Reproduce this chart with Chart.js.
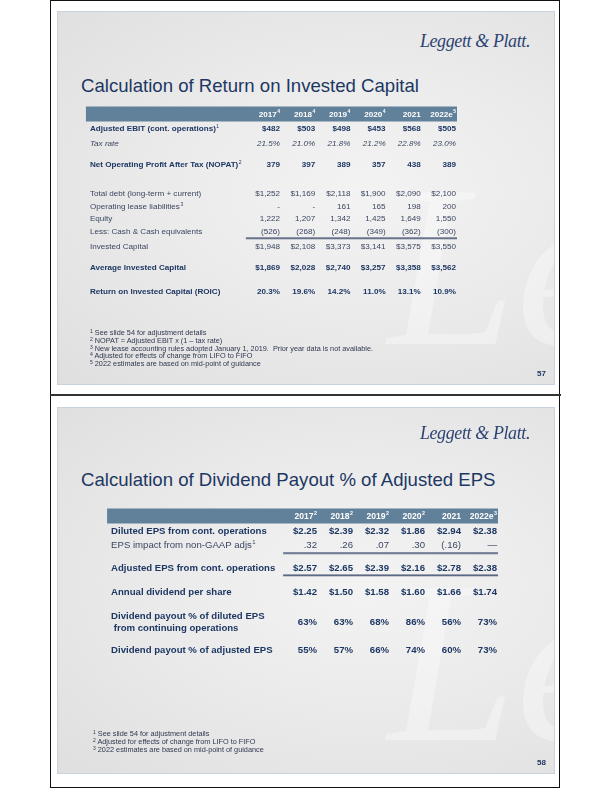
<!DOCTYPE html>
<html>
<head>
<meta charset="utf-8">
<script src="https://cdn.jsdelivr.net/npm/chart.js@4.4.1/dist/chart.umd.min.js"></script>
<style>
body { margin: 0; width: 612px; height: 792px; background: #fff; position: relative; overflow: hidden; font-family: "Liberation Sans", Arial, sans-serif; }
.frame { position: absolute; left: 50px; top: 0; width: 508px; height: 786px; border: 1.5px solid #111; }
.divider { position: absolute; left: 50px; top: 394px; width: 511px; height: 2px; background: #333; }
.slide { position: absolute; left: 57px; width: 498px; overflow: hidden; box-sizing: border-box; border: 1px solid #c9d3de;
  background: radial-gradient(ellipse at 62% 48%, #f3f3f3 0%, #ebebeb 45%, #dfdfdf 100%); }
.slide canvas { position: absolute; left: 0; top: 0; }
.logo { position: absolute; right: 24px; font-family: "Liberation Serif", serif; font-style: italic; font-size: 18px; color: #2c4373; letter-spacing: -0.4px; }
.title { position: absolute; left: 23px; font-size: 18.6px; line-height: 1; color: #1d3763; white-space: nowrap; }
.notes { position: absolute; font-size: 7.3px; line-height: 7.8px; color: #2f3850; white-space: nowrap; }
.notes sup { font-size: 5px; vertical-align: 2px; line-height: 0; }
.page { position: absolute; right: 8px; font-size: 8px; font-weight: bold; color: #1d3763; }
.mark { position: absolute; font-family: "Liberation Serif", serif; font-style: italic; color: rgba(255,255,255,0.35); font-size: 230px; line-height: 1; white-space: nowrap; }
</style>
</head>
<body>
<div class="frame"></div>
<div class="divider"></div>

<div class="slide" style="top:11px;height:374px">
  <div class="mark" style="left:330px;top:140px">Le</div>
  <div class="logo" style="top:19px">Leggett &amp; Platt.</div>
  <div class="title" style="top:65px">Calculation of Return on Invested Capital</div>
  <canvas id="roicChart" width="498" height="374"></canvas>
  <div class="notes" style="left:32px;top:317px">
    <sup>1</sup> See slide 54 for adjustment details<br>
    <sup>2</sup> NOPAT = Adjusted EBIT x (1 – tax rate)<br>
    <sup>3</sup> New lease accounting rules adopted January 1, 2019.&nbsp; Prior year data is not available.<br>
    <sup>4</sup> Adjusted for effects of change from LIFO to FIFO<br>
    <sup>5</sup> 2022 estimates are based on mid-point of guidance
  </div>
  <div class="page" style="top:357px">57</div>
</div>

<div class="slide" style="top:407px;height:367px">
  <div class="mark" style="left:330px;top:140px">Le</div>
  <div class="logo" style="top:15px">Leggett &amp; Platt.</div>
  <div class="title" style="top:63px">Calculation of Dividend Payout % of Adjusted EPS</div>
  <canvas id="payoutChart" width="498" height="367"></canvas>
  <div class="notes" style="left:35px;top:322px">
    <sup>1</sup> See slide 54 for adjustment details<br>
    <sup>2</sup> Adjusted for effects of change from LIFO to FIFO<br>
    <sup>3</sup> 2022 estimates are based on mid-point of guidance
  </div>
  <div class="page" style="top:350px">58</div>
</div>

<script>
// ---- ROIC table data ----
const roicYears = ['2017', '2018', '2019', '2020', '2021', '2022e'];
const roicYearNotes = ['4', '4', '4', '4', '', '5'];
const roicLabels = ['Adjusted EBIT (cont. operations)', 'Tax rate', 'Net Operating Profit After Tax (NOPAT)',
  'Total debt (long-term + current)', 'Operating lease liabilities', 'Equity', 'Less: Cash & Cash equivalents',
  'Invested Capital', 'Average Invested Capital', 'Return on Invested Capital (ROIC)'];
const roicLabelNotes = ['1', '', '2', '', '3', '', '', '', '', ''];
const adjustedEbit = [482, 503, 498, 453, 568, 505];
const taxRate = [21.5, 21.0, 21.8, 21.2, 22.8, 23.0];
const nopat = [379, 397, 389, 357, 438, 389];
const totalDebt = [1252, 1169, 2118, 1900, 2090, 2100];
const leaseLiabilities = [null, null, 161, 165, 198, 200];
const equity = [1222, 1207, 1342, 1425, 1649, 1550];
const cashEquivalents = [-526, -268, -248, -349, -362, -300];
const investedCapital = [1948, 2108, 3373, 3141, 3575, 3550];
const avgInvestedCapital = [1869, 2028, 2740, 3257, 3358, 3562];
const roic = [20.3, 19.6, 14.2, 11.0, 13.1, 10.9];

// ---- Dividend payout table data ----
const payoutYears = ['2017', '2018', '2019', '2020', '2021', '2022e'];
const payoutYearNotes = ['2', '2', '2', '2', '', '3'];
const payoutLabels = ['Diluted EPS from cont. operations', 'EPS impact from non-GAAP adjs',
  'Adjusted EPS from cont. operations', 'Annual dividend per share',
  'Dividend payout % of diluted EPS\n from continuing operations', 'Dividend payout % of adjusted EPS'];
const payoutLabelNotes = ['', '1', '', '', '', ''];
const dilutedEps = [2.25, 2.39, 2.32, 1.86, 2.94, 2.38];
const nonGaapAdj = [0.32, 0.26, 0.07, 0.30, -0.16, 0];
const adjustedEps = [2.57, 2.65, 2.39, 2.16, 2.78, 2.38];
const annualDividend = [1.42, 1.50, 1.58, 1.60, 1.66, 1.74];
const payoutDiluted = [63, 63, 68, 86, 56, 73];
const payoutAdjusted = [55, 57, 66, 74, 60, 73];

// formatters
const comma = v => Math.abs(v).toLocaleString('en-US');
const money = v => v == null ? '-' : (v < 0 ? '(' + comma(v) + ')' : '$' + comma(v));
const plain = v => v == null ? '-' : (v < 0 ? '(' + comma(v) + ')' : comma(v));
const pct1 = v => v.toFixed(1) + '%';
const pct0 = v => v + '%';
const eps = v => '$' + v.toFixed(2);
const adj = v => v === 0 ? '—' : (v < 0 ? '(' + v.toFixed(2).replace('-0', '') + ')' : v.toFixed(2).replace(/^0/, ''));

const NAVY = '#1d3763';
const GREY = '#3b4660';

const tablePlugin = {
  id: 'table',
  afterDraw(chart, args, o) {
    const ctx = chart.ctx;
    const xs = chart.scales.x, ys = chart.scales.y;
    const font = (w, s, st) => (st || '') + ' ' + w + ' ' + s + 'px "Liberation Sans", Arial, sans-serif';
    ctx.save();
    // header bar
    const hy = ys.getPixelForValue(0);
    const barL = xs.getPixelForValue(o.labelCol) - 4;
    const barR = xs.getPixelForValue(xs.max) + 1;
    ctx.fillStyle = '#61809a';
    ctx.fillRect(barL, hy - o.barH / 2, barR - barL, o.barH);
    ctx.textBaseline = 'middle';
    o.years.forEach((yr, i) => {
      const x = xs.getPixelForValue(i);
      ctx.font = font('bold', o.headSize * 0.62);
      const nw = o.yearNotes[i] ? ctx.measureText(o.yearNotes[i]).width + 0.5 : 0;
      ctx.fillStyle = '#fff';
      ctx.textAlign = 'left';
      ctx.fillText(o.yearNotes[i], x - nw + 0.5, hy - o.headSize * 0.3);
      ctx.textAlign = 'right';
      ctx.font = font('bold', o.headSize);
      ctx.fillText(yr, x - nw, hy + 0.5);
    });
    // rule lines
    o.rules.forEach(r => {
      const y = ys.getPixelForValue(o.rowPos[r.row]) + r.gap;
      const l = xs.getPixelForValue(r.from);
      ctx.fillStyle = '#24375c';
      ctx.fillRect(l, y, barR - l, 1.2);
      ctx.fillStyle = 'rgba(150,160,175,0.6)';
      ctx.fillRect(l, y + 1.2, barR - l, 1);
    });
    // rows
    chart.data.datasets.forEach((ds, r) => {
      const meta = chart.getDatasetMeta(r);
      const st = o.styles[r];
      ctx.fillStyle = st.color;
      const w = st.bold ? 'bold' : 'normal';
      const it = st.italic ? 'italic' : '';
      // label
      const lx = xs.getPixelForValue(o.labelCol);
      const ly = ys.getPixelForValue(o.rowPos[r]);
      const lines = ds.label.split('\n');
      lines.forEach((line, k) => {
        const yy = ly + (k - (lines.length - 1) / 2) * o.size * 1.25;
        ctx.textAlign = 'left';
        ctx.font = font(w, o.size, it);
        ctx.fillText(line, lx, yy);
        if (k === lines.length - 1 && o.labelNotes[r]) {
          const tw = ctx.measureText(line).width;
          ctx.font = font('normal', o.size * 0.62);
          ctx.fillText(o.labelNotes[r], lx + tw + 0.5, yy - o.size * 0.3);
        }
      });
      ctx.font = font(w, o.size, it);
      ctx.textAlign = 'right';
      meta.data.forEach((pt, i) => {
        ctx.fillText(ds.cells[i], pt.x, pt.y);
      });
    });
    ctx.restore();
  }
};

function makeTable(id, labels, rows, fmts, styles, opts) {
  const datasets = rows.map((vals, r) => ({
    label: labels[r],
    cells: vals.map(fmts[r]),
    data: vals.map((v, i) => ({ x: i, y: opts.rowPos[r] })),
    pointRadius: 0
  }));
  new Chart(document.getElementById(id), {
    type: 'scatter',
    data: { datasets: datasets },
    options: {
      responsive: false,
      animation: false,
      layout: { padding: opts.padding },
      scales: {
        x: { type: 'linear', display: false, min: 0, max: 5 },
        y: { type: 'linear', display: false, min: 0, max: opts.rowPos[opts.rowPos.length - 1], reverse: true }
      },
      plugins: {
        legend: { display: false },
        tooltip: { enabled: false },
        table: Object.assign({ styles: styles }, opts)
      }
    },
    plugins: [tablePlugin]
  });
}

const B = { bold: true, color: NAVY };
const R = { bold: false, color: GREY };

makeTable('roicChart', roicLabels,
  [adjustedEbit, taxRate, nopat, totalDebt, leaseLiabilities, equity, cashEquivalents, investedCapital, avgInvestedCapital, roic],
  [money, pct1, plain, money, plain, plain, plain, money, money, pct1],
  [B, { bold: false, italic: true, color: GREY }, B, R, R, R, R, R, B, B],
  {
    years: roicYears, yearNotes: roicYearNotes, labelNotes: roicLabelNotes,
    rowPos: [1, 2, 3.4, 5.33, 6.2, 7.0, 7.87, 8.87, 10.27, 11.87],
    padding: { left: 222, right: 100, top: 102, bottom: 94 },
    labelCol: -5.4, size: 8.1, headSize: 8.1, barH: 15,
    rules: [{ row: 6, gap: 5.5, from: -0.97 }]
  });

makeTable('payoutChart', payoutLabels,
  [dilutedEps, nonGaapAdj, adjustedEps, annualDividend, payoutDiluted, payoutAdjusted],
  [eps, adj, eps, eps, pct0, pct0],
  [B, R, B, B, B, B],
  {
    years: payoutYears, yearNotes: payoutYearNotes, labelNotes: payoutLabelNotes,
    rowPos: [1, 1.93, 3.47, 5.07, 7.07, 8.93],
    padding: { left: 259, right: 59, top: 108, bottom: 367 - 242 },
    labelCol: -5.72, size: 9.6, headSize: 8.6, barH: 15,
    rules: [{ row: 1, gap: 7.5, from: -0.94 }, { row: 2, gap: 6.5, from: -0.94 }]
  });
</script>
</body>
</html>
